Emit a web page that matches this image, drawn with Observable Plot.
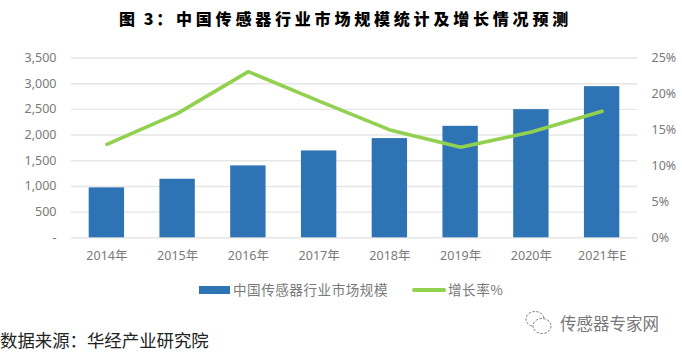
<!DOCTYPE html>
<html lang="zh">
<head>
<meta charset="utf-8">
<script src="https://cdn.jsdelivr.net/npm/d3@7"></script>
<script src="https://cdn.jsdelivr.net/npm/@observablehq/plot@0.6"></script>
<style>
html,body{margin:0;padding:0;background:#fff;}
body{width:682px;height:352px;position:relative;overflow:hidden;font-family:"Noto Sans CJK SC","Noto Sans",sans-serif;}
#title{position:absolute;left:119px;top:6px;font-size:16px;font-weight:900;letter-spacing:3.8px;line-height:24px;color:#000;white-space:pre;}
#title span{letter-spacing:2.6px;}
#chart{position:absolute;left:0;top:40px;}
#chart svg{display:block;}
.leg{position:absolute;top:279px;font-size:13.6px;line-height:20px;color:#7a7a7a;white-space:nowrap;letter-spacing:.5px;}
.sw{position:absolute;}
#source{position:absolute;left:0;top:329px;font-size:17.4px;line-height:22px;color:#222;white-space:nowrap;}
#wm{position:absolute;left:560px;top:311px;font-size:16.5px;line-height:24px;color:#777;white-space:nowrap;}
#icon{position:absolute;left:524px;top:309px;}
</style>
</head>
<body>
<div id="title"><span>图 3</span>&#xFF1A;中国传感器行业市场规模统计及增长情况预测</div>
<div id="chart"></div>
<div class="sw" style="left:199px;top:286px;width:31px;height:8px;background:#2e74b5"></div>
<div class="leg" style="left:233px">中国传感器行业市场规模</div>
<div class="sw" style="left:412px;top:288px;width:34px;height:4px;border-radius:2px;background:#92d050"></div>
<div class="leg" style="left:448px">增长率%</div>
<div id="source">数据来源&#xFF1A;华经产业研究院</div>
<svg id="icon" width="30" height="28" fill="none" stroke="#777" stroke-width="1" stroke-dasharray="2.5 1.5">
<ellipse cx="11" cy="10" rx="9" ry="7.5"></ellipse>
<ellipse cx="18" cy="17" rx="9" ry="7.5" fill="#fff"></ellipse>
</svg>
<div id="wm">传感器专家网</div>
<script>
const years = ["2014年","2015年","2016年","2017年","2018年","2019年","2020年","2021年E"];
const marketSize = [972,1140,1400,1691,1931,2170,2495,2942];
const growthRate = [13.0,17.3,23.1,19.0,15.0,12.6,14.7,17.6];
const leftTicks = [0,500,1000,1500,2000,2500,3000,3500];
const rightTicks = [0,5,10,15,20,25];
const leftMax = 3500, rightMax = 25;
const toLeft = v => v * leftMax / rightMax;
const rows = years.map((year,i)=>({year,size:marketSize[i],rate:growthRate[i]}));
const grey = "#7a7a7a";
const fontFamily = '"Noto Sans","Noto Sans CJK SC",sans-serif';

const plot = Plot.plot({
  width:682, height:240,
  marginTop:17.5, marginBottom:42.7, marginLeft:71, marginRight:45,
  style:{background:"transparent",fontFamily,fontSize:"12.5px",color:grey},
  x:{domain:years,paddingInner:0.5,paddingOuter:0.25,align:0.5,round:false,label:null},
  y:{domain:[0,leftMax],label:null},
  marks:[
    Plot.ruleY(leftTicks,{stroke:"#e6e6e6",strokeWidth:1.4}),
    Plot.barY(rows,{x:"year",y:"size",fill:"#2e74b5"}),
    Plot.line(rows,{x:"year",y:d=>toLeft(d.rate),stroke:"#92d050",strokeWidth:3.6,strokeLinecap:"round",strokeLinejoin:"miter"}),
    Plot.axisY(leftTicks,{anchor:"left",label:null,tickSize:0,tickPadding:15,
      tickFormat:d=>d===0?"-":d3.format(",")(d),color:grey,fontSize:12.5}),
    Plot.axisY(rightTicks.map(toLeft),{anchor:"right",label:null,tickSize:0,tickPadding:14,textAnchor:"start",
      tickFormat:d=>(d*rightMax/leftMax)+"%",color:grey,fontSize:12.5}),
    Plot.axisX({label:null,tickSize:0,tickPadding:13,color:grey,fontSize:12.5})
  ]
});
document.getElementById("chart").appendChild(plot);
</script>
</body>
</html>
